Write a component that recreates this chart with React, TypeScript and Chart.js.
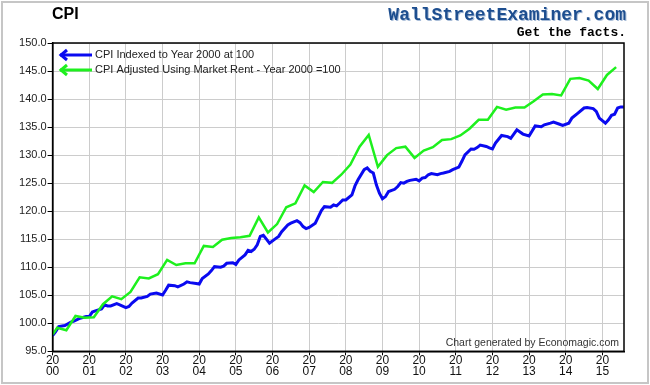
import React, { useEffect, useRef } from "react";
import { Chart, registerables } from "chart.js";
Chart.register(...registerables);

const yearTicks = [2000, 2001, 2002, 2003, 2004, 2005, 2006, 2007, 2008, 2009, 2010, 2011, 2012, 2013, 2014, 2015];

const blueMonths = [
  "2000-01", "2000-02", "2000-03", "2000-05", "2000-07", "2000-08", "2000-10", "2000-12",
  "2001-01", "2001-02", "2001-03", "2001-05", "2001-06", "2001-07", "2001-08", "2001-10", "2001-11",
  "2002-01", "2002-02", "2002-03", "2002-05", "2002-06", "2002-08", "2002-09", "2002-11",
  "2003-01", "2003-02", "2003-03", "2003-05", "2003-06", "2003-08", "2003-09", "2003-10", "2003-12",
  "2004-01", "2004-02", "2004-04", "2004-05", "2004-06", "2004-08", "2004-09", "2004-10", "2004-12",
  "2005-01", "2005-02", "2005-04", "2005-05", "2005-06", "2005-07", "2005-08", "2005-09", "2005-10", "2005-11", "2005-12",
  "2006-02", "2006-03", "2006-04", "2006-06", "2006-07", "2006-09", "2006-10", "2006-11", "2006-12",
  "2007-01", "2007-03", "2007-04", "2007-05", "2007-06", "2007-08", "2007-09", "2007-10", "2007-11", "2007-12",
  "2008-01", "2008-03", "2008-04", "2008-05", "2008-07", "2008-08", "2008-09", "2008-10", "2008-11", "2008-12",
  "2009-01", "2009-02", "2009-03", "2009-05", "2009-06", "2009-07", "2009-08", "2009-09", "2009-10", "2009-12",
  "2010-01", "2010-02", "2010-03", "2010-04", "2010-05", "2010-07", "2010-08", "2010-09", "2010-11", "2010-12",
  "2011-02", "2011-03", "2011-04", "2011-06", "2011-07", "2011-08", "2011-09", "2011-11", "2011-12",
  "2012-01", "2012-02", "2012-04", "2012-06", "2012-07", "2012-09", "2012-11",
  "2013-01", "2013-02", "2013-03", "2013-05", "2013-06", "2013-08", "2013-09", "2013-11", "2013-12",
  "2014-02", "2014-03", "2014-05", "2014-07", "2014-08", "2014-10", "2014-11", "2014-12",
  "2015-02", "2015-03", "2015-04", "2015-05", "2015-06", "2015-07", "2015-08",
];
const blueValues = [
  97.8, 98.5, 99.4, 99.6, 100.2, 100.4, 100.9, 101.2,
  101.2, 102.0, 102.2, 102.55, 103.3, 103.1, 103.1, 103.5, 103.3,
  102.8, 103.0, 103.6, 104.5, 104.5, 104.8, 105.2, 105.4,
  105.05, 105.9, 106.8, 106.7, 106.5, 107.0, 107.4, 107.25, 107.1,
  107.0, 108.0, 108.8, 109.4, 110.1, 110.0, 110.2, 110.7, 110.8,
  110.5, 111.3, 112.2, 113.0, 112.8, 113.2, 114.0, 115.5, 115.7, 115.0, 114.3,
  115.1, 115.5, 116.35, 117.55, 117.85, 118.3, 117.95, 117.25, 116.9,
  117.1, 117.85, 119.0, 120.1, 120.8, 120.7, 121.1, 120.95, 121.45, 122.0,
  122.0, 122.9, 124.5, 125.6, 127.4, 127.7, 127.1, 126.8, 124.7, 123.2,
  122.2, 122.6, 123.5, 123.9, 124.4, 125.1, 125.0, 125.3, 125.5, 125.7,
  125.4, 125.9, 126.0, 126.5, 126.7, 126.5, 126.7, 126.8, 127.1, 127.4,
  127.85, 128.9, 130.05, 131.1, 131.05, 131.35, 131.8, 131.55, 131.3,
  131.1, 132.15, 133.5, 133.3, 133.0, 134.5, 133.75,
  133.4, 134.3, 135.2, 135.05, 135.4, 135.7, 135.9, 135.5, 135.3,
  135.7, 136.6, 137.5, 138.4, 138.5, 138.3, 137.8, 136.6,
  135.7, 136.3, 137.1, 137.3, 138.4, 138.6, 138.6,
];

const greenStartMonth = "2000-01";
const greenStartValue = 98.0;
const greenQuarters = [
  "2000-Q1", "2000-Q2", "2000-Q3", "2000-Q4", "2001-Q1", "2001-Q2", "2001-Q3", "2001-Q4",
  "2002-Q1", "2002-Q2", "2002-Q3", "2002-Q4", "2003-Q1", "2003-Q2", "2003-Q3", "2003-Q4",
  "2004-Q1", "2004-Q2", "2004-Q3", "2004-Q4", "2005-Q1", "2005-Q2", "2005-Q3", "2005-Q4",
  "2006-Q1", "2006-Q2", "2006-Q3", "2006-Q4", "2007-Q1", "2007-Q2", "2007-Q3", "2007-Q4",
  "2008-Q1", "2008-Q2", "2008-Q3", "2008-Q4", "2009-Q1", "2009-Q2", "2009-Q3", "2009-Q4",
  "2010-Q1", "2010-Q2", "2010-Q3", "2010-Q4", "2011-Q1", "2011-Q2", "2011-Q3", "2011-Q4",
  "2012-Q1", "2012-Q2", "2012-Q3", "2012-Q4", "2013-Q1", "2013-Q2", "2013-Q3", "2013-Q4",
  "2014-Q1", "2014-Q2", "2014-Q3", "2014-Q4", "2015-Q1", "2015-Q2",
];
const greenValues = [
  99.2, 98.75, 101.3, 101.0, 101.07, 103.4, 104.8, 104.3,
  105.6, 108.2, 108.0, 108.75, 111.3, 110.4, 110.7, 110.7,
  113.8, 113.6, 114.9, 115.2, 115.35, 115.6, 118.9, 116.2,
  117.7, 120.7, 121.4, 124.6, 123.4, 125.2, 125.05, 126.5,
  128.3, 131.5, 133.6, 127.9, 130.0, 131.25, 131.5, 129.5,
  130.8, 131.4, 132.7, 132.85, 133.5, 134.7, 136.3, 136.3,
  138.6, 138.1, 138.5, 138.5, 139.6, 140.8, 140.9, 140.65,
  143.6, 143.75, 143.3, 141.8, 144.3, 145.7,
];

const blueLabel = "CPI Indexed to Year 2000 at 100";
const greenLabel = "CPI Adjusted Using Market Rent - Year 2000 =100";
const titleText = "CPI";
const brandText = "WallStreetExaminer.com";
const taglineText = "Get the facts.";
const creditText = "Chart generated by Economagic.com";

const BLUE = "#0a0af0";
const GREEN = "#1ef01e";

function monthToYear(s: string) {
  const [y, m] = s.split("-").map(Number);
  return y + (m - 1) / 12;
}
function quarterToYear(s: string) {
  const [y, q] = s.split("-Q").map(Number);
  return y + (q - 1) / 4 + 0.125;
}

const bluePoints = blueMonths.map((m, i) => ({ x: monthToYear(m), y: blueValues[i] }));
const greenPoints = [
  { x: monthToYear(greenStartMonth), y: greenStartValue },
  ...greenQuarters.map((q, i) => ({ x: quarterToYear(q), y: greenValues[i] })),
];

const decor = {
  id: "decor",
  beforeDraw(chart: any) {
    const ctx = chart.ctx;
    ctx.save();
    ctx.fillStyle = "#ffffff";
    ctx.fillRect(0, 0, chart.width, chart.height);
    ctx.strokeStyle = "#c6c6c6";
    ctx.lineWidth = 2;
    ctx.strokeRect(2, 2, chart.width - 4, chart.height - 4);
    ctx.restore();
  },
  afterDraw(chart: any) {
    const ctx = chart.ctx;
    const a = chart.chartArea;
    ctx.save();
    // plot frame
    ctx.strokeStyle = "#000";
    ctx.lineWidth = 1.5;
    ctx.strokeRect(a.left, a.top, a.right - a.left, a.bottom - a.top);

    // title
    ctx.fillStyle = "#000";
    ctx.font = "bold 16px 'Liberation Sans', Arial, sans-serif";
    ctx.textAlign = "left";
    ctx.textBaseline = "alphabetic";
    ctx.fillText(titleText, 52, 19);

    // brand
    ctx.textAlign = "right";
    ctx.font = "bold 18px 'Liberation Mono', 'Courier New', monospace";
    ctx.fillStyle = "#a9bdd8";
    ctx.fillText(brandText, 627, 21);
    ctx.fillStyle = "#1d4e8f";
    ctx.fillText(brandText, 626, 20);
    ctx.font = "bold 13px 'Liberation Mono', 'Courier New', monospace";
    ctx.fillStyle = "#000";
    ctx.fillText(taglineText, 626, 36);

    // legend
    const items = [
      { color: BLUE, text: blueLabel, y: a.top + 12 },
      { color: GREEN, text: greenLabel, y: a.top + 27 },
    ];
    for (const it of items) {
      ctx.strokeStyle = it.color;
      ctx.lineWidth = 3;
      ctx.lineCap = "butt";
      ctx.beginPath();
      ctx.moveTo(60, it.y);
      ctx.lineTo(92, it.y);
      ctx.stroke();
      ctx.beginPath();
      ctx.moveTo(67, it.y - 5);
      ctx.lineTo(61, it.y);
      ctx.lineTo(67, it.y + 5);
      ctx.stroke();
      ctx.fillStyle = "#222";
      ctx.font = "11px 'Liberation Sans', Arial, sans-serif";
      ctx.textAlign = "left";
      ctx.textBaseline = "middle";
      ctx.fillText(it.text, 95, it.y);
    }

    // credit
    ctx.fillStyle = "#333";
    ctx.font = "10.5px 'Liberation Sans', Arial, sans-serif";
    ctx.textAlign = "right";
    ctx.textBaseline = "alphabetic";
    ctx.fillText(creditText, 619, 346);
    ctx.restore();
  },
};

export default function App() {
  const ref = useRef<HTMLCanvasElement>(null);
  useEffect(() => {
    document.body.style.margin = "0";
    const canvas = ref.current!;
    const chart = new Chart(canvas, {
      type: "line",
      data: {
        datasets: [
          {
            label: greenLabel,
            data: greenPoints,
            borderColor: GREEN,
            borderWidth: 2.5,
            pointRadius: 0,
            tension: 0,
            order: 0,
          },
          {
            label: blueLabel,
            data: bluePoints,
            borderColor: BLUE,
            borderWidth: 3,
            pointRadius: 0,
            tension: 0,
            order: 1,
          },
        ],
      },
      options: {
        animation: false,
        responsive: false,
        devicePixelRatio: 1,
        layout: { padding: { top: 43, right: 26, left: 0, bottom: 0 } },
        plugins: {
          legend: { display: false },
          tooltip: { enabled: false },
          title: { display: false },
        },
        scales: {
          x: {
            type: "linear",
            min: 2000,
            max: 2015.59,
            afterBuildTicks: (s: any) => {
              s.ticks = yearTicks.map((v) => ({ value: v }));
            },
            afterFit: (s: any) => {
              s.height = 33.7;
            },
            grid: { color: "#cccccc", lineWidth: 1, tickColor: "#000", tickLength: 4 },
            border: { color: "#000", width: 1.5 },
            ticks: {
              autoSkip: false,
              maxRotation: 0,
              padding: 0,
              color: "#111",
              font: { family: "'Liberation Sans Narrow', 'Arial Narrow', 'Liberation Sans', Arial", size: 12, lineHeight: 0.9 },
              callback: (v: any) => {
                const s = String(v);
                return [s.slice(0, 2), s.slice(2)];
              },
            },
          },
          y: {
            min: 95,
            max: 150,
            afterFit: (s: any) => {
              s.width = 52.6;
            },
            grid: { color: "#cccccc", lineWidth: 1, tickColor: "#000", tickLength: 5 },
            border: { color: "#000", width: 1.5 },
            ticks: {
              stepSize: 5,
              padding: 1,
              color: "#222",
              font: { family: "'Liberation Sans', Arial", size: 11 },
              callback: (v: any) => Number(v).toFixed(1),
            },
          },
        },
      } as any,
      plugins: [decor],
    });
    return () => chart.destroy();
  }, []);
  return (
    <div style={{ position: "absolute", left: 0, top: 0, width: 650, height: 385 }}>
      <canvas ref={ref} width={650} height={385} style={{ display: "block" }} />
    </div>
  );
}
